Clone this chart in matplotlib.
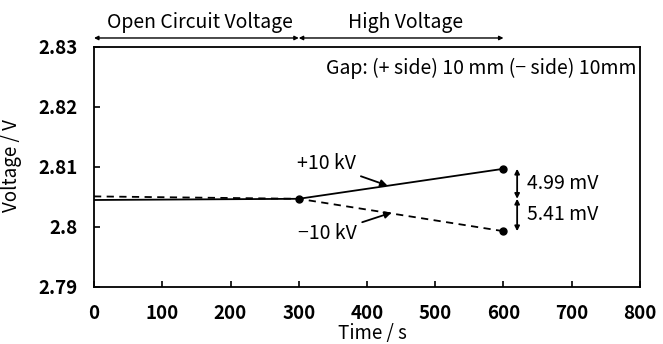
import matplotlib.pyplot as plt
from matplotlib.ticker import FuncFormatter

plt.rcParams['font.family'] = ['Noto Sans CJK JP', 'DejaVu Sans']

# values
time_pos = [0, 300, 600]
volt_pos = [2.8045, 2.8047, 2.8097]   # +10 kV, solid
volt_neg = [2.8051, 2.8047, 2.7993]   # -10 kV, dashed
x_ticks = [0, 100, 200, 300, 400, 500, 600, 700, 800]
y_ticks = [2.79, 2.80, 2.81, 2.82, 2.83]
phase_edges = [0, 300, 600]
phase_names = ["Open Circuit Voltage", "High Voltage"]
diff_labels = ["4.99 mV", "5.41 mV"]

FS = 14

fig = plt.figure(figsize=(6.63, 3.44), dpi=100)
ax = fig.add_axes([0.1418, 0.1657, 0.8235, 0.6977])

ax.plot(time_pos, volt_pos, c="black", lw=1.3, ls="-")
ax.plot(time_pos, volt_neg, c="black", lw=1.3, ls=(0, (4, 3)))
ax.plot(time_pos[1:], volt_pos[1:], ls="none", marker="o", ms=5, c="black")
ax.plot(time_pos[2:], volt_neg[2:], ls="none", marker="o", ms=5, c="black")

ax.set_xlim(0, 800)
ax.set_ylim(2.79, 2.83)
ax.set_xticks(x_ticks)
ax.set_yticks(y_ticks)
ax.yaxis.set_major_formatter(FuncFormatter(lambda v, p: "%g" % round(v, 3)))
ax.tick_params(direction="in", length=4, width=1.2, labelsize=13.5)
for lab in ax.get_xticklabels() + ax.get_yticklabels():
    lab.set_fontweight("bold")
ax.tick_params(axis="x", pad=12)
ax.tick_params(axis="y", pad=12)
for s in ax.spines.values():
    s.set_linewidth(1.3)

# axis titles placed by hand, the reference has them hugging the edges
fig.text(372 / 663, 1 - 333 / 344, "Time / s", ha="center", va="center", fontsize=13.5)
fig.text(12 / 663, 1 - 166 / 344, "Voltage / V", ha="center", va="center",
         rotation=90, fontsize=13.5)

# phase arrows above the plot
for i, name in enumerate(phase_names):
    a, b = phase_edges[i], phase_edges[i + 1]
    ax.annotate("", xy=(a, 1.0375), xytext=(b, 1.0375),
                xycoords=("data", "axes fraction"), textcoords=("data", "axes fraction"),
                arrowprops=dict(arrowstyle="<|-|>", color="black", lw=1.0,
                                mutation_scale=6, shrinkA=0, shrinkB=0),
                annotation_clip=False)
ax.text(155, 1.104, phase_names[0], transform=ax.get_xaxis_transform(),
        ha="center", va="center", fontsize=FS)
ax.text(457, 1.104, phase_names[1], transform=ax.get_xaxis_transform(),
        ha="center", va="center", fontsize=FS)

ax.text(0.9945, 0.9125, "Gap: (+ side) 10 mm (\u2212 side) 10mm", transform=ax.transAxes,
        ha="right", va="center", fontsize=FS)

ax.annotate("+10 kV", xy=(430, 2.8069), xytext=(340, 2.8105), ha="center", va="center",
            fontsize=FS, arrowprops=dict(arrowstyle="-|>", color="black", lw=1.3,
                                         mutation_scale=10, shrinkA=2, shrinkB=0))
ax.annotate("\u221210 kV", xy=(436, 2.8024), xytext=(342, 2.7989), ha="center", va="center",
            fontsize=FS, arrowprops=dict(arrowstyle="-|>", color="black", lw=1.3,
                                         mutation_scale=10, shrinkA=2, shrinkB=0))

# difference arrows at 600 s
for top, bot, lab in [(volt_pos[2], volt_pos[1], diff_labels[0]),
                      (volt_neg[1], volt_neg[2], diff_labels[1])]:
    ax.annotate("", xy=(620, top), xytext=(620, bot),
                arrowprops=dict(arrowstyle="<|-|>", color="black", lw=1.3,
                                mutation_scale=7, shrinkA=0, shrinkB=0))
    ax.text(635, (top + bot) / 2, lab, ha="left", va="center", fontsize=FS)

fig.savefig("out.png", dpi=100)
